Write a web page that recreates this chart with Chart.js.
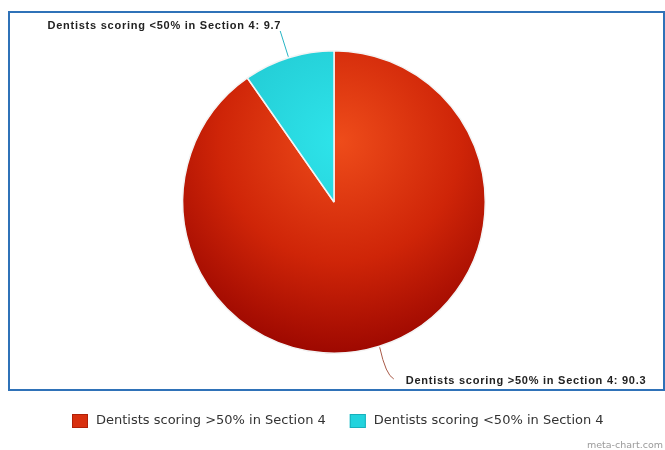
<!DOCTYPE html>
<html>
<head>
<meta charset="utf-8">
<script src="https://cdn.jsdelivr.net/npm/chart.js@4.4.0/dist/chart.umd.min.js"></script>
<style>
  html, body { margin: 0; padding: 0; background: #fff; }
  #wrap { width: 665px; height: 450px; position: relative; }
</style>
</head>
<body>
<div id="wrap"><canvas id="pie" width="665" height="450"></canvas></div>
<script>
// Section 4 results
const labels = ['Dentists scoring >50% in Section 4', 'Dentists scoring <50% in Section 4'];
const values = [90.3, 9.7];
const baseColors = ['#d8300f', '#22d3dd'];
const lineColors = ['#a85a48', '#26b4c4'];

function sliceFill(ctx) {
  const chart = ctx.chart;
  const area = chart.chartArea;
  if (!area) return baseColors[ctx.dataIndex];
  const cx = (area.left + area.right) / 2 + 6;
  const cy = area.top + (area.bottom - area.top) * 0.3;
  const r = (area.bottom - area.top) * 0.72;
  const g = chart.ctx.createRadialGradient(cx, cy, 0, cx, cy, r);
  if (ctx.dataIndex === 0) {
    g.addColorStop(0, '#ee4c1a');
    g.addColorStop(0.55, '#cf2508');
    g.addColorStop(1, '#9a0600');
  } else {
    g.addColorStop(0, '#2ee4ea');
    g.addColorStop(1, '#1ab9c4');
  }
  return g;
}

// frame, outside labels with connectors, legend row and credit
const decorations = {
  id: 'decorations',
  afterDraw(chart) {
    const c = chart.ctx;
    c.save();

    c.strokeStyle = '#2f72b8';
    c.lineWidth = 2;
    c.strokeRect(9, 12, 655, 378);

    const meta = chart.getDatasetMeta(0);
    meta.data.forEach((arc, i) => {
      const p = arc.getProps(['x', 'y', 'startAngle', 'endAngle', 'outerRadius'], true);
      const mid = (p.startAngle + p.endAngle) / 2;
      const cos = Math.cos(mid), sin = Math.sin(mid);
      const ax = p.x + cos * (p.outerRadius + 1);
      const ay = p.y + sin * (p.outerRadius + 1);
      const ex = p.x + cos * (p.outerRadius + 28);
      const ey = p.y + sin * (p.outerRadius + 28);
      const right = cos >= 0;
      const tx = right ? ex + 18 : ex + 1;
      const ty = right ? ey + 8 : ey - 5;

      c.strokeStyle = lineColors[i];
      c.lineWidth = 1;
      c.beginPath();
      c.moveTo(ax, ay);
      if (right) {
        c.quadraticCurveTo(ex - 2, ey + 2, tx - 12, ty - 2);
      } else {
        c.lineTo(ex, ey);
      }
      c.stroke();

      c.fillStyle = '#222';
      c.font = 'bold 11px "Liberation Sans", Arial, sans-serif';
      c.letterSpacing = '0.75px';
      c.textBaseline = 'middle';
      c.textAlign = right ? 'left' : 'right';
      c.fillText(labels[i] + ': ' + values[i], tx, ty);
      c.letterSpacing = '0px';
    });

    // legend
    c.font = '13px "DejaVu Sans", Verdana, sans-serif';
    c.textAlign = 'left';
    c.textBaseline = 'middle';
    const legendY = 421;
    let x = 72;
    labels.forEach((lab, i) => {
      c.fillStyle = baseColors[i];
      c.fillRect(x, legendY - 7, 16, 14);
      c.strokeStyle = i === 0 ? '#b02008' : '#18b0bb';
      c.lineWidth = 1;
      c.strokeRect(x + 0.5, legendY - 6.5, 15, 13);
      c.fillStyle = '#333';
      c.fillText(lab, x + 24, legendY);
      x += 24 + c.measureText(lab).width + 24;
    });

    c.font = '9.5px "DejaVu Sans", Verdana, sans-serif';
    c.fillStyle = '#9a9a9a';
    c.textAlign = 'right';
    c.fillText('meta-chart.com', 663, 446);

    c.restore();
  }
};

new Chart(document.getElementById('pie'), {
  type: 'pie',
  data: {
    labels: labels,
    datasets: [{
      data: values,
      backgroundColor: sliceFill,
      borderColor: '#f4f4f4',
      borderWidth: 1.5,
    }],
  },
  options: {
    responsive: false,
    animation: false,
    events: [],
    layout: { padding: { left: 3, right: 0, top: 50, bottom: 96 } },
    plugins: {
      legend: { display: false },
      tooltip: { enabled: false },
    },
  },
  plugins: [decorations],
});
</script>
</body>
</html>
